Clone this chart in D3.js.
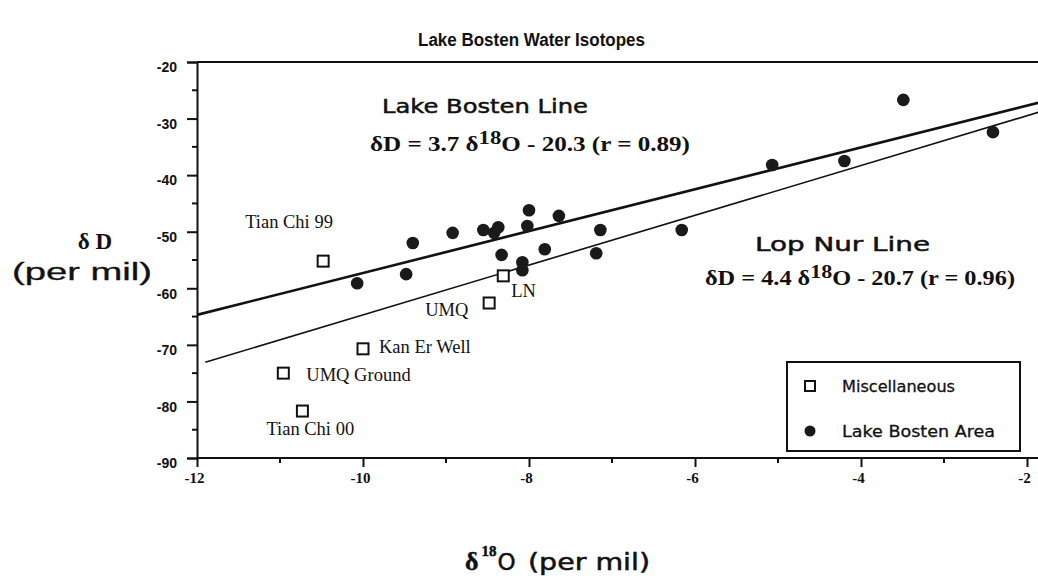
<!DOCTYPE html>
<html>
<head>
<meta charset="utf-8">
<script src="https://cdn.jsdelivr.net/npm/d3@7"></script>
<style>
  body { margin: 0; background: #fff; }
  svg { display: block; }
</style>
</head>
<body>
<div id="chart"></div>
<script>
// Data
const bostenX = [-10.07, -9.48, -9.40, -8.92, -8.55, -8.42, -8.37, -8.02, -8.0, -7.64, -8.33,
  -7.81, -8.08, -8.08, -7.19, -7.14, -6.16, -5.07, -4.20, -3.49, -2.41];
const bostenY = [-59.1, -57.5, -52.0, -50.2, -49.7, -50.2, -49.2, -49.0, -46.2, -47.2, -54.1,
  -53.1, -55.4, -56.8, -53.8, -49.7, -49.7, -38.2, -37.5, -26.7, -32.4];

const miscNames = ['Tian Chi 99', 'Kan Er Well', 'UMQ Ground', 'Tian Chi 00', 'LN', 'UMQ'];
const miscX = [-10.48, -10.0, -10.96, -10.73, -8.31, -8.48];
const miscY = [-55.2, -70.7, -75.0, -81.7, -57.8, -62.6];

// fit lines: slope, intercept, x range
const fitNames = ['Lake Bosten Line', 'Lop Nur Line'];
const fitSlope = [3.7, 4.4];
const fitIntercept = [-20.3, -20.7];
const fitR = [0.89, 0.96];
const fitFrom = [-12, -11.9];
const fitTo = [-1.85, -1.85];

const xMajor = [-12, -10, -8, -6, -4, -2];
const xMinor = [-11, -9, -7, -5, -3];
const yMajor = [-90, -80, -70, -60, -50, -40, -30, -20];
const yMinor = [-85, -75, -65, -55, -45, -35, -25];

const width = 1038;
const height = 585;
const plot = { l: 197, r: 1027, t: 62, b: 458 };

const svg = d3
  .select('#chart')
  .append('svg')
  .attr('width', width)
  .attr('height', height)
  .style('background', '#fff');

const x = d3.scaleLinear().domain([-12, -2]).range([plot.l, plot.r]);
const y = d3.scaleLinear().domain([-90, -20]).range([plot.b, plot.t]);

const sans = "'DejaVu Sans', Verdana, sans-serif";
const arial = "'Liberation Sans', Arial, sans-serif";
const serif = "'Liberation Serif', 'Times New Roman', serif";

// fit text into a given width
function fit(sel, w) {
  sel.attr('textLength', w).attr('lengthAdjust', 'spacingAndGlyphs');
  return sel;
}

// title
fit(
  svg
    .append('text')
    .attr('x', 418)
    .attr('y', 46)
    .attr('font-family', arial)
    .attr('font-weight', 'bold')
    .attr('font-size', 18)
    .attr('fill', '#111')
    .text('Lake Bosten Water Isotopes'),
  227,
);

// frame: top border
svg
  .append('line')
  .attr('x1', plot.l)
  .attr('x2', width)
  .attr('y1', plot.t)
  .attr('y2', plot.t)
  .attr('stroke', '#111')
  .attr('stroke-width', 2);

// y axis
const yAxis = svg.append('g').attr('transform', `translate(${plot.l},0)`);
yAxis
  .call(d3.axisLeft(y).tickValues(yMajor).tickSize(10).tickFormat((d) => `${d}`))
  .call((g) => g.select('.domain').attr('stroke-width', 2).attr('stroke', '#111'));
yAxis
  .selectAll('.tick line')
  .attr('stroke', '#111')
  .attr('stroke-width', 2);
yAxis
  .selectAll('.tick text')
  .attr('font-family', arial)
  .attr('font-weight', 'bold')
  .attr('font-size', 14)
  .attr('fill', '#111')
  .attr('x', -20)
  .attr('dy', '0.7em');
yAxis
  .selectAll('.minor')
  .data(yMinor)
  .join('line')
  .attr('class', 'minor')
  .attr('x1', -5)
  .attr('x2', 0)
  .attr('y1', (d) => y(d))
  .attr('y2', (d) => y(d))
  .attr('stroke', '#111')
  .attr('stroke-width', 2);

// x axis
const xAxis = svg.append('g').attr('transform', `translate(0,${plot.b})`);
xAxis
  .call(d3.axisBottom(x).tickValues(xMajor).tickSize(9).tickFormat((d) => `${d}`))
  .call((g) => g.select('.domain').remove());
xAxis
  .append('line')
  .attr('x1', plot.l)
  .attr('x2', width)
  .attr('stroke', '#111')
  .attr('stroke-width', 2);
xAxis
  .selectAll('.tick line')
  .attr('stroke', '#111')
  .attr('stroke-width', 2);
xAxis
  .selectAll('.tick text')
  .attr('font-family', serif)
  .attr('font-weight', 'bold')
  .attr('font-size', 15)
  .attr('fill', '#111')
  .attr('dx', -3)
  .attr('y', 14);
xAxis
  .selectAll('.minor')
  .data(xMinor)
  .join('line')
  .attr('class', 'minor')
  .attr('x1', (d) => x(d))
  .attr('x2', (d) => x(d))
  .attr('y1', 0)
  .attr('y2', 5)
  .attr('stroke', '#111')
  .attr('stroke-width', 2);

// axis titles
svg
  .append('text')
  .attr('x', 95)
  .attr('y', 249)
  .attr('text-anchor', 'middle')
  .attr('font-family', serif)
  .attr('font-weight', 'bold')
  .attr('font-size', 23)
  .attr('fill', '#111')
  .text('δ D');
fit(
  svg
    .append('text')
    .attr('x', 12)
    .attr('y', 280)
    .attr('font-family', arial)
    .attr('font-size', 23)
    .attr('fill', '#111')
    .attr('stroke', '#111')
    .attr('stroke-width', 0.3)
    .text('(per mil)'),
  140,
);

const xLab = svg
  .append('text')
  .attr('x', 465)
  .attr('y', 570)
  .attr('font-family', sans)
  .attr('font-size', 23)
  .attr('fill', '#111')
  .attr('stroke', '#111')
  .attr('stroke-width', 0.5);
xLab.append('tspan').attr('font-family', serif).attr('font-weight', 'bold').attr('font-size', 26).text('δ');
xLab.append('tspan').attr('font-family', serif).attr('font-weight', 'bold').attr('font-size', 15).attr('dy', -14).attr('dx', 3).text('18');
xLab.append('tspan').attr('dy', 14).attr('dx', 1).text('O');
fit(xLab.append('tspan').attr('x', 528).text('(per mil)'), 122);

// fit lines
const lineGen = d3
  .line()
  .x((d) => x(d[0]))
  .y((d) => y(d[1]));
const lineWidths = [2.6, 1.6];
fitNames.forEach((name, i) => {
  const pts = [fitFrom[i], fitTo[i]].map((v) => [v, fitSlope[i] * v + fitIntercept[i]]);
  svg
    .append('path')
    .attr('d', lineGen(pts))
    .attr('fill', 'none')
    .attr('stroke', '#111')
    .attr('stroke-width', lineWidths[i]);
});

// line annotations
const annot = [
  { title: [382, 113, 206], eq: [370, 151, 320] },
  { title: [755, 251, 175], eq: [705, 285, 310] },
];
const format = d3.format('.1f');
fitNames.forEach((name, i) => {
  fit(
    svg
      .append('text')
      .attr('x', annot[i].title[0])
      .attr('y', annot[i].title[1])
      .attr('font-family', sans)
      .attr('font-size', 20)
      .attr('fill', '#111')
      .attr('stroke', '#111')
      .attr('stroke-width', 0.5)
      .text(name),
    annot[i].title[2],
  );
  const eq = svg
    .append('text')
    .attr('x', annot[i].eq[0])
    .attr('y', annot[i].eq[1])
    .attr('font-family', serif)
    .attr('font-weight', 'bold')
    .attr('font-size', 21)
    .attr('fill', '#111');
  eq.append('tspan').text(`δD = ${format(fitSlope[i])} δ`);
  eq.append('tspan').attr('dy', -7).attr('font-size', 19).text('18');
  eq.append('tspan').attr('dy', 7).text(`O - ${format(-fitIntercept[i])} (r = ${fitR[i]})`);
  fit(eq, annot[i].eq[2]);
});

// Lake Bosten Area points
svg
  .selectAll('.bosten')
  .data(bostenX)
  .join('circle')
  .attr('class', 'bosten')
  .attr('cx', (d) => x(d))
  .attr('cy', (d, i) => y(bostenY[i]))
  .attr('r', 6.3)
  .attr('fill', '#1a1a1a');

// Miscellaneous points
const sq = 11;
svg
  .selectAll('.misc')
  .data(miscX)
  .join('rect')
  .attr('class', 'misc')
  .attr('x', (d) => x(d) - sq / 2)
  .attr('y', (d, i) => y(miscY[i]) - sq / 2)
  .attr('width', sq)
  .attr('height', sq)
  .attr('fill', '#fff')
  .attr('stroke', '#111')
  .attr('stroke-width', 2);

// labels for misc points (offset from the square)
const labelDx = [-78, 16, 23, -36, 8, -64];
const labelDy = [-33, 4, 8, 24, 21, 13];
svg
  .selectAll('.misc-label')
  .data(miscNames)
  .join('text')
  .attr('class', 'misc-label')
  .attr('x', (d, i) => x(miscX[i]) + labelDx[i])
  .attr('y', (d, i) => y(miscY[i]) + labelDy[i])
  .attr('font-family', serif)
  .attr('font-size', 18.5)
  .attr('fill', '#111')
  .text((d) => d);

// legend
const legend = svg.append('g').attr('class', 'legend');
legend
  .append('rect')
  .attr('x', 787)
  .attr('y', 362)
  .attr('width', 233)
  .attr('height', 89)
  .attr('fill', '#fff')
  .attr('stroke', '#111')
  .attr('stroke-width', 2);
legend
  .append('rect')
  .attr('x', 805)
  .attr('y', 381)
  .attr('width', 10)
  .attr('height', 10)
  .attr('fill', '#fff')
  .attr('stroke', '#111')
  .attr('stroke-width', 2);
legend
  .append('circle')
  .attr('cx', 810)
  .attr('cy', 431)
  .attr('r', 5.5)
  .attr('fill', '#1a1a1a');
fit(
  legend
    .append('text')
    .attr('x', 842)
    .attr('y', 392)
    .attr('font-family', sans)
    .attr('font-size', 16)
    .attr('fill', '#111')
    .attr('stroke', '#111')
    .attr('stroke-width', 0.3)
    .text('Miscellaneous'),
  113,
);
fit(
  legend
    .append('text')
    .attr('x', 842)
    .attr('y', 437)
    .attr('font-family', sans)
    .attr('font-size', 16)
    .attr('fill', '#111')
    .attr('stroke', '#111')
    .attr('stroke-width', 0.3)
    .text('Lake Bosten Area'),
  153,
);
</script>
</body>
</html>
